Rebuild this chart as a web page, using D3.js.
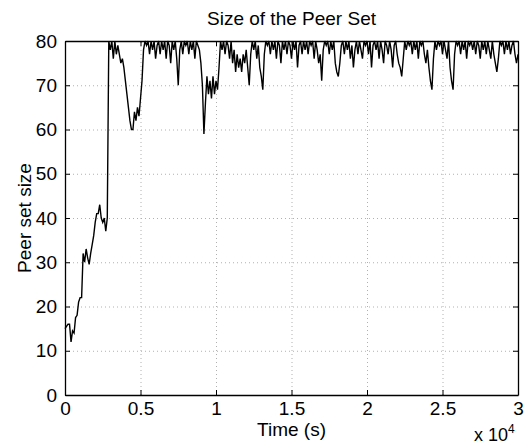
<!DOCTYPE html>
<html>
<head>
<meta charset="utf-8">
<script src="https://cdn.jsdelivr.net/npm/d3@7"></script>
<style>
  body { margin: 0; background: #fff; }
  svg text { font-family: "Liberation Sans", Arial, sans-serif; fill: #000; }
  .grid line { stroke: #b0b0b0; stroke-dasharray: 1,3; }
  .grid path { display: none; }
</style>
</head>
<body>
<svg id="chart" width="531" height="446"></svg>
<script>
// --- Datos: tamaño del peer set muestreado cada 100 s ---
const sampleStep = 100; // segundos entre muestras
const peerSetSize = [
  15, 15.5, 16, 16, 12, 14.5, 14, 17.5, 18, 21,
  22, 22, 32, 30, 33, 31, 29.5, 32, 34, 36,
  39, 41, 41, 43, 40, 39, 40, 37, 40, 80,
  78, 80, 76, 80, 77, 79, 77, 75, 76, 74,
  71, 68, 65, 62, 60, 60, 64, 62, 65, 63,
  67, 71, 78, 80, 79, 80, 77, 80, 78, 80,
  76, 79, 80, 77, 80, 78, 80, 76, 80, 79,
  75, 80, 78, 80, 76, 70, 78, 80, 77, 80,
  79, 80, 77, 80, 78, 80, 76, 80, 79, 78,
  75, 70, 59, 66, 72, 68, 71, 67, 72, 68,
  71, 69, 74, 80, 78, 80, 77, 80, 79, 76,
  80, 75, 78, 73, 77, 74, 76, 73, 77, 75,
  78, 74, 70, 77, 80, 78, 80, 76, 79, 74,
  72, 69, 77, 80, 79, 80, 77, 80, 78, 80,
  76, 80, 79, 75, 80, 78, 80, 77, 80, 79,
  76, 80, 78, 80, 74, 79, 80, 77, 80, 78,
  80, 77, 80, 79, 80, 76, 80, 78, 75, 77,
  71, 78, 80, 79, 80, 77, 80, 78, 80, 75,
  73, 72, 75, 79, 80, 77, 80, 78, 80, 76,
  79, 74, 78, 80, 77, 80, 78, 76, 80, 79,
  80, 77, 80, 74, 79, 80, 78, 80, 76, 80,
  78, 75, 80, 79, 77, 80, 78, 74, 79, 80,
  77, 75, 74, 72, 76, 80, 78, 80, 79, 80,
  77, 80, 78, 80, 76, 80, 79, 80, 77, 75,
  78, 74, 71, 69, 76, 80, 78, 80, 79, 80,
  77, 80, 78, 76, 80, 74, 71, 69, 77, 80,
  79, 80, 77, 80, 78, 80, 76, 80, 79, 80,
  78, 80, 77, 80, 79, 76, 80, 78, 80, 77,
  80, 78, 76, 80, 77, 75, 73, 76, 80, 79,
  80, 77, 80, 78, 80, 77, 79, 80, 77, 75,
  77
];

const xTicks = [0, 5000, 10000, 15000, 20000, 25000, 30000];
const xTickLabels = ["0", "0.5", "1", "1.5", "2", "2.5", "3"];
const yTicks = [0, 10, 20, 30, 40, 50, 60, 70, 80];

// --- Geometría ---
const margin = {top: 41, right: 13, bottom: 51, left: 65},
      width = 531 - margin.left - margin.right,
      height = 446 - margin.top - margin.bottom;

const svg = d3.select("#chart");
const g = svg.append("g")
    .attr("transform", `translate(${margin.left}, ${margin.top})`);

const x = d3.scaleLinear().domain([0, 30000]).range([0, width]);
const y = d3.scaleLinear().domain([0, 80]).range([height, 0]);

// --- Rejilla punteada ---
g.append("g")
    .attr("class", "grid")
    .attr("transform", `translate(0, ${height})`)
    .call(d3.axisBottom(x).tickValues(xTicks.slice(1, -1)).tickSize(-height).tickFormat(""));

g.append("g")
    .attr("class", "grid")
    .call(d3.axisLeft(y).tickValues(yTicks.slice(1, -1)).tickSize(-width).tickFormat(""));

// --- Serie ---
const line = d3.line()
    .x((d, i) => x(i * sampleStep))
    .y(d => y(d));

g.append("path")
    .datum(peerSetSize)
    .attr("d", line)
    .attr("fill", "none")
    .attr("stroke", "#000")
    .attr("stroke-width", 1.4)
    .attr("stroke-linejoin", "miter");

// --- Ejes (marcas hacia dentro, caja completa) ---
const fontSize = 19;

const xAxis = g.append("g")
    .attr("transform", `translate(0, ${height})`)
    .call(d3.axisBottom(x).tickValues(xTicks)
        .tickFormat((d, i) => xTickLabels[i])
        .tickSizeInner(-5).tickSizeOuter(0).tickPadding(10));

const yAxis = g.append("g")
    .call(d3.axisLeft(y).tickValues(yTicks)
        .tickSizeInner(-5).tickSizeOuter(0).tickPadding(8));

const xAxisTop = g.append("g")
    .call(d3.axisTop(x).tickValues(xTicks).tickFormat("")
        .tickSizeInner(-5).tickSizeOuter(0));

const yAxisRight = g.append("g")
    .attr("transform", `translate(${width}, 0)`)
    .call(d3.axisRight(y).tickValues(yTicks).tickFormat("")
        .tickSizeInner(-5).tickSizeOuter(0));

[xAxis, yAxis, xAxisTop, yAxisRight].forEach(a => {
    a.select(".domain").attr("stroke", "#000").attr("stroke-width", 1.3);
    a.selectAll(".tick line").attr("stroke", "#000").attr("stroke-width", 1);
    a.selectAll("text").style("font-size", fontSize + "px")
        .style("font-family", "'Liberation Sans', Arial, sans-serif").attr("fill", "#000");
});
xAxis.selectAll("text").attr("dy", "0.55em");

// --- Textos ---
svg.append("text")
    .attr("x", margin.left + width / 2)
    .attr("y", 25)
    .attr("text-anchor", "middle")
    .style("font-size", fontSize + "px")
    .text("Size of the Peer Set");

svg.append("text")
    .attr("x", margin.left + width / 2)
    .attr("y", 436)
    .attr("text-anchor", "middle")
    .style("font-size", fontSize + "px")
    .text("Time (s)");

svg.append("text")
    .attr("transform", `translate(31, ${margin.top + height / 2}) rotate(-90)`)
    .attr("text-anchor", "middle")
    .style("font-size", fontSize + "px")
    .text("Peer set size");

const expo = svg.append("text")
    .attr("x", 474)
    .attr("y", 441)
    .style("font-size", "18px");
expo.append("tspan").text("x 10");
expo.append("tspan")
    .attr("dy", -8)
    .style("font-size", "12px")
    .text("4");
</script>
</body>
</html>
